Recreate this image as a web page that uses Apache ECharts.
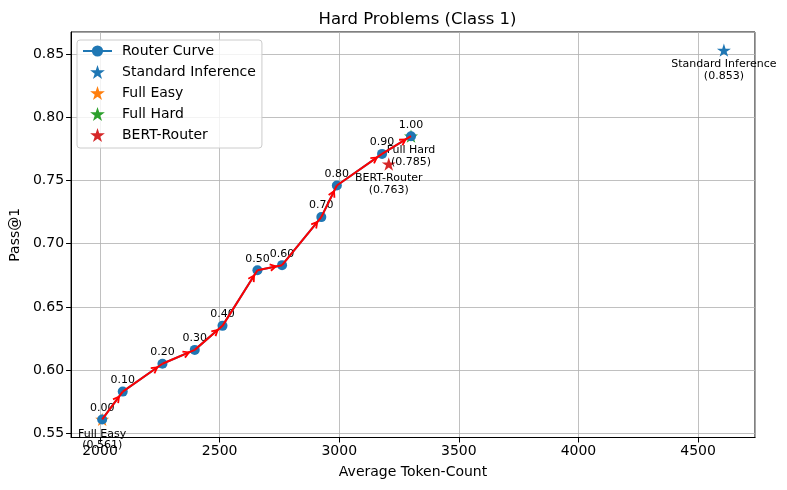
<!DOCTYPE html>
<html>
<head>
<meta charset="utf-8">
<script src="https://cdn.jsdelivr.net/npm/echarts@6/dist/echarts.min.js"></script>
<style>
html,body{margin:0;padding:0;background:#fff;}
#chart{width:787px;height:490px;}
</style>
</head>
<body>
<div id="chart"></div>
<script>
// ---- data ----
const thresholds = ['0.00','0.10','0.20','0.30','0.40','0.50','0.60','0.70','0.80','0.90','1.00'];
const routerX = [2009, 2095, 2261, 2396, 2512, 2658, 2761, 2925, 2990, 3179, 3300];
const routerY = [0.561, 0.583, 0.605, 0.616, 0.635, 0.679, 0.683, 0.721, 0.746, 0.771, 0.785];
const refNames = ['Standard Inference', 'Full Easy', 'Full Hard', 'BERT-Router'];
const refX = [4608, 2009, 3300, 3207];
const refY = [0.853, 0.561, 0.785, 0.763];
const titleText = 'Hard Problems (Class 1)';
const xName = 'Average Token-Count';
const yName = 'Pass@1';

// ---- styling ----
const FONT = 'DejaVu Sans';
const palette = ['#1f77b4', '#ff7f0e', '#2ca02c', '#d62728'];
const starPath = 'path://M100,0 L122.45,69.1 L195.1,69.1 L136.3,111.8 L158.8,180.9 L100,138.2 L41.2,180.9 L63.7,111.8 L4.9,69.1 L77.55,69.1 Z';
// open arrow head (tip at top) inside a square 25x25 box; two tiny anchors fix the box so
// the head sits just behind the target marker
const chevron = 'path://M-8.5,-17 L-8.48,-17 L-8.5,-16.98 Z M16.5,8 L16.48,8 L16.5,7.98 Z M4,0 L8,7.1 L6.4,8 L4,3.6 L1.6,8 L0,7.1 Z';

const chart = echarts.init(document.getElementById('chart'), null, {renderer: 'canvas'});

const routerData = routerX.map((x, i) => [x, routerY[i]]);
const arrowData = [];
for (let i = 0; i < routerX.length - 1; i++) {
  arrowData.push({coords: [[routerX[i], routerY[i]], [routerX[i + 1], routerY[i + 1]]]});
}

const refSeries = refNames.map((name, i) => ({
  name: name,
  type: 'scatter',
  z: 2,
  symbol: starPath,
  symbolKeepAspect: true,
  symbolSize: 14,
  itemStyle: {color: palette[i], opacity: 1},
  data: [[refX[i], refY[i]]],
  label: {
    show: true,
    position: 'bottom',
    distance: 2,
    align: 'center',
    fontFamily: FONT,
    fontSize: 11,
    lineHeight: 11.5,
    color: '#000',
    formatter: (p) => name + '\n(' + p.value[1].toFixed(3) + ')'
  },
  emphasis: {disabled: true}
}));

const option = {
  animation: false,
  backgroundColor: '#fff',
  title: {
    text: titleText,
    left: 412.5,
    top: 6,
    textAlign: 'center',
    textStyle: {fontFamily: FONT, fontSize: 16.5, fontWeight: 'normal', color: '#000'}
  },
  legend: {
    orient: 'vertical',
    left: 77,
    top: 40,
    itemWidth: 29,
    itemHeight: 14,
    itemGap: 7,
    padding: [4, 6, 6, 5],
    borderColor: '#cccccc',
    borderWidth: 1,
    borderRadius: 3,
    backgroundColor: 'rgba(255,255,255,0.8)',
    textStyle: {fontFamily: FONT, fontSize: 14, color: '#000', padding: [0, 0, 0, 5]},
    data: ['Router Curve'].concat(refNames)
  },
  grid: {
    left: 70, right: 32, top: 32, bottom: 52.5,
    show: true, borderColor: '#000', borderWidth: 1, backgroundColor: 'transparent'
  },
  xAxis: {
    type: 'value',
    min: 1879, max: 4738,
    splitNumber: 5,
    name: xName,
    nameLocation: 'middle',
    nameGap: 28,
    nameTextStyle: {fontFamily: FONT, fontSize: 14, color: '#000'},
    axisLine: {show: true, lineStyle: {color: '#000', width: 1}},
    axisTick: {show: true, inside: false, length: 5, lineStyle: {color: '#000', width: 1}},
    axisLabel: {show: true, margin: 7, fontFamily: FONT, fontSize: 14, color: '#000', showMinLabel: false, showMaxLabel: false,
      formatter: (v) => String(Math.round(v))},
    splitLine: {show: true, lineStyle: {color: '#b0b0b0', width: 0.8}}
  },
  yAxis: {
    type: 'value',
    min: 0.5467, max: 0.8674,
    splitNumber: 5,
    name: yName,
    nameLocation: 'middle',
    nameRotate: 90,
    nameGap: 42,
    nameTextStyle: {fontFamily: FONT, fontSize: 14, color: '#000'},
    axisLine: {show: true, lineStyle: {color: '#000', width: 1}},
    axisTick: {show: true, inside: false, length: 5, lineStyle: {color: '#000', width: 1}},
    axisLabel: {show: true, margin: 7, fontFamily: FONT, fontSize: 14, color: '#000', showMinLabel: false, showMaxLabel: false,
      formatter: (v) => v.toFixed(2)},
    splitLine: {show: true, lineStyle: {color: '#b0b0b0', width: 0.8}}
  },
  series: [
    {
      name: 'Router Curve',
      type: 'line',
      z: 3,
      data: routerData,
      symbol: 'circle',
      symbolSize: 10,
      showAllSymbol: true,
      lineStyle: {color: palette[0], width: 2},
      itemStyle: {color: palette[0], borderWidth: 0},
      label: {
        show: true,
        position: 'top',
        distance: 1,
        fontFamily: FONT,
        fontSize: 11,
        color: '#000',
        formatter: (p) => thresholds[p.dataIndex]
      },
      emphasis: {disabled: true}
    }
  ].concat(refSeries).concat([
    {
      name: 'arrows',
      type: 'lines',
      coordinateSystem: 'cartesian2d',
      z: 4,
      symbol: ['none', chevron],
      symbolSize: 25,
      symbolKeepAspect: false,
      lineStyle: {color: '#ff0000', width: 2, opacity: 1, curveness: 0},
      itemStyle: {color: '#ff0000'},
      data: arrowData,
      silent: true
    }
  ])
};

chart.setOption(option);
</script>
</body>
</html>
